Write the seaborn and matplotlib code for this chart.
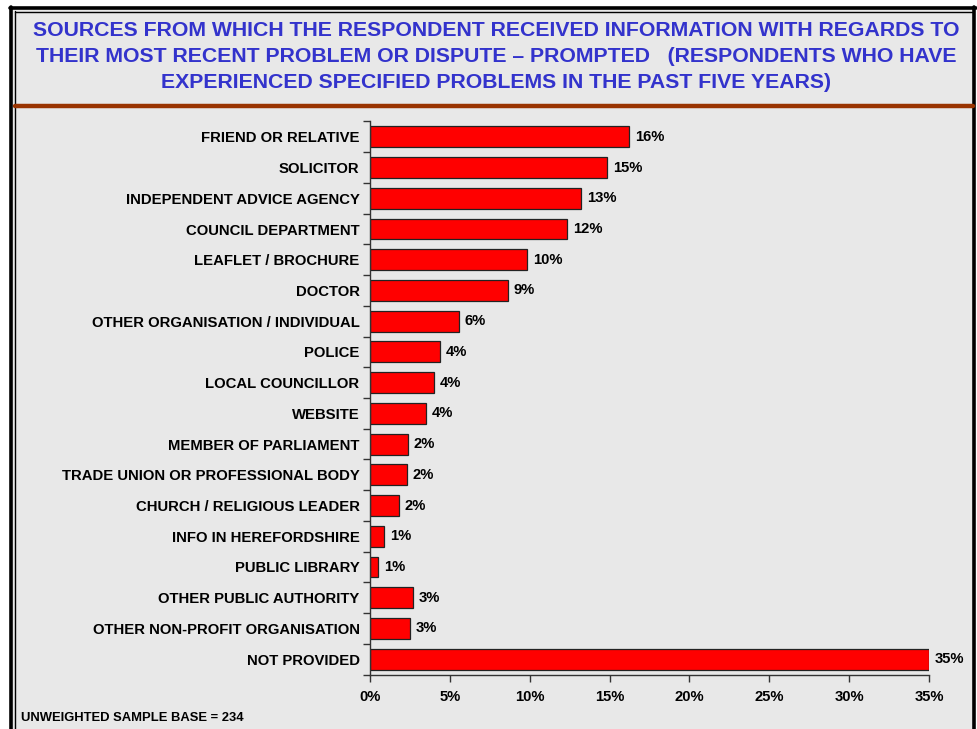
import math
import matplotlib
matplotlib.use("Agg")
import matplotlib.pyplot as plt
from matplotlib.patches import Rectangle
from matplotlib.lines import Line2D
from matplotlib.ticker import FixedLocator, FuncFormatter
import seaborn as sns
import pandas as pd

# Survey results: share of respondents citing each information source (%)
sources = [
    "FRIEND OR RELATIVE",
    "SOLICITOR",
    "INDEPENDENT ADVICE AGENCY",
    "COUNCIL DEPARTMENT",
    "LEAFLET / BROCHURE",
    "DOCTOR",
    "OTHER ORGANISATION / INDIVIDUAL",
    "POLICE",
    "LOCAL COUNCILLOR",
    "WEBSITE",
    "MEMBER OF PARLIAMENT",
    "TRADE UNION OR PROFESSIONAL BODY",
    "CHURCH / RELIGIOUS LEADER",
    "INFO IN HEREFORDSHIRE",
    "PUBLIC LIBRARY",
    "OTHER PUBLIC AUTHORITY",
    "OTHER NON-PROFIT ORGANISATION",
    "NOT PROVIDED",
]
shares = [16.23, 14.86, 13.24, 12.36, 9.85, 8.64, 5.55, 4.40, 4.03, 3.53,
          2.40, 2.34, 1.84, 0.90, 0.52, 2.71, 2.52, 35.0]
x_ticks = [0, 5, 10, 15, 20, 25, 30, 35]

title_lines = [
    "SOURCES FROM WHICH THE RESPONDENT RECEIVED INFORMATION WITH REGARDS TO",
    "THEIR MOST RECENT PROBLEM OR DISPUTE \u2013 PROMPTED   (RESPONDENTS WHO HAVE",
    "EXPERIENCED SPECIFIED PROBLEMS IN THE PAST FIVE YEARS)",
]
footnote = "UNWEIGHTED SAMPLE BASE = 234"

df = pd.DataFrame({"source": sources, "share": shares})

W, H = 977, 729
sns.set_theme(style="white")
plt.rcParams["font.family"] = ["Liberation Sans", "DejaVu Sans"]
plt.rcParams["font.weight"] = "bold"
plt.rcParams["text.color"] = "black"
plt.rcParams["xtick.color"] = "black"
plt.rcParams["ytick.color"] = "black"

fig = plt.figure(figsize=(W / 100, H / 100), dpi=100)
fig.patch.set_facecolor("white")


def fx(px):
    return px / W


def fy(py):
    return 1 - py / H


def pct(v):
    # round half up, as in the printed percentages
    return f"{math.floor(v + 0.5)}%"


# slide panel background and frame
fig.patches.append(Rectangle((fx(12), 0), fx(974) - fx(12), fy(8),
                             transform=fig.transFigure, facecolor="#E8E8E8",
                             edgecolor="none", zorder=-10))
frame = [
    ([11, 11], [729, 7], 2.6),
    ([10, 975.5], [8, 8], 2.6),
    ([15, 15], [729, 11], 1.0),
    ([15, 972], [11.5, 11.5], 1.0),
    ([974, 974], [729, 7], 2.6),
]
for xs, ys, lw in frame:
    fig.lines.append(Line2D([fx(v) for v in xs], [fy(v) for v in ys],
                            transform=fig.transFigure, color="black", lw=lw, zorder=5))
# brown rule under the title
fig.lines.append(Line2D([fx(15), fx(973)], [fy(106), fy(106)], transform=fig.transFigure,
                        color="#993300", lw=3.2, zorder=5))

for i, line in enumerate(title_lines):
    fig.text(fx(496), fy(31 + 25.5 * i), line, ha="center", va="center",
             color="#3333CC", fontsize=15.3, fontweight="bold")

fig.text(fx(21), fy(718), footnote, ha="left", va="center",
         color="black", fontsize=9.4, fontweight="bold")

ax = fig.add_axes([fx(370), fy(674.5), fx(929) - fx(370), fy(121.5) - fy(674.5)])
ax.set_facecolor("none")
ax.set_zorder(2)

sns.barplot(data=df, x="share", y="source", orient="h", order=sources,
            color="#FF0000", edgecolor="#222222", linewidth=0.9,
            width=0.68, saturation=1, ax=ax)

ax.set_xlim(0, 35)
ax.set_ylim(len(sources) - 0.5, -0.5)
ax.set_xlabel("")
ax.set_ylabel("")

for spine in ["top", "right"]:
    ax.spines[spine].set_visible(False)
for spine in ["left", "bottom"]:
    ax.spines[spine].set_color("#333333")
    ax.spines[spine].set_linewidth(1.0)

ax.xaxis.set_major_locator(FixedLocator(x_ticks))
ax.xaxis.set_major_formatter(FuncFormatter(lambda v, _: f"{v:.0f}%"))
ax.tick_params(axis="x", which="major", direction="out", length=5, width=1,
               color="#333333", labelcolor="black", labelsize=10.6, pad=6.5, bottom=True)
for lbl in ax.get_xticklabels():
    lbl.set_fontweight("bold")

ax.yaxis.set_minor_locator(FixedLocator([i - 0.5 for i in range(len(sources) + 1)]))
ax.tick_params(axis="y", which="major", length=0, labelsize=10.7,
               labelcolor="black", pad=7.5)
ax.tick_params(axis="y", which="minor", direction="out", length=5, width=1,
               color="#333333", left=True)
for lbl in ax.get_yticklabels():
    lbl.set_fontweight("bold")

for i, v in enumerate(shares):
    ax.annotate(pct(v), xy=(v, i), xytext=(4, 0), textcoords="offset points",
                ha="left", va="center", fontsize=10.6, fontweight="bold",
                color="black", annotation_clip=False)

fig.savefig("out.png", dpi=100)
